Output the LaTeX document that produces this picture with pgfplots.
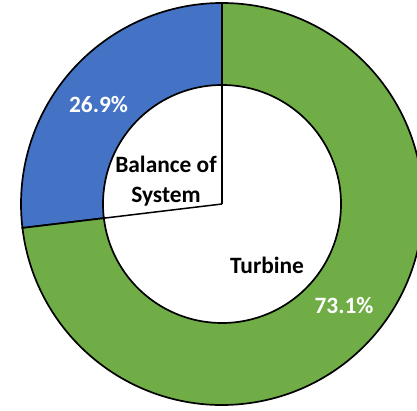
\documentclass[border=0pt]{standalone}
\usepackage{pgfplots}
\usepackage{pgfplotstable}
\pgfplotsset{compat=1.18}
\usetikzlibrary{calc}
\usepackage{fontspec}
\setmainfont{Carlito}
\definecolor{bosblue}{HTML}{4472C4}
\definecolor{turbgreen}{HTML}{70AD47}
\pgfplotstableread{
label value
BOS 26.9
Turbine 73.1
}\piedata
\begin{document}
\begin{tikzpicture}
\pgfplotstablegetelem{0}{value}\of\piedata \let\vA\pgfplotsretval
\pgfplotstablegetelem{1}{value}\of\piedata \let\vB\pgfplotsretval
\pgfmathsetmacro\aA{90+3.6*\vA}
\pgfmathsetmacro\aB{\aA+3.6*\vB}
\def\Ro{201bp}
\def\Ri{119bp}
\begin{axis}[
  scale only axis, width=417bp, height=411bp,
  xmin=0, xmax=417, ymin=0, ymax=411,
  hide axis, clip=true,
  /pgf/number format/assume math mode=true,
]
\coordinate (c) at (axis cs:222,207);
% Balance of System sector
\filldraw[fill=bosblue, draw=black, line width=1.7bp]
  (c) ++(90:\Ro) arc[start angle=90, end angle=\aA, radius=\Ro]
  -- ($(c)+(\aA:\Ri)$) arc[start angle=\aA, end angle=90, radius=\Ri] -- cycle;
% Turbine sector
\filldraw[fill=turbgreen, draw=black, line width=1.7bp]
  (c) ++(\aA:\Ro) arc[start angle=\aA, end angle=\aB, radius=\Ro]
  -- ($(c)+(\aB:\Ri)$) arc[start angle=\aB, end angle=\aA, radius=\Ri] -- cycle;
% inner wedge lines
\draw[black, line width=1.5bp] (c) -- ++(90:\Ri);
\draw[black, line width=1.5bp] (c) -- ++(\aA:\Ri);
% labels
\node[text=white, font=\fontsize{23.5}{28}\selectfont\bfseries] at (axis cs:98.5,306) {\pgfmathprintnumber[fixed,precision=1,fixed zerofill,assume math mode=true]{\vA}\%};
\node[text=white, font=\fontsize{23.5}{28}\selectfont\bfseries] at (axis cs:344,105) {\pgfmathprintnumber[fixed,precision=1,fixed zerofill,assume math mode=true]{\vB}\%};
\node[text=black, align=center, font=\fontsize{23.5}{29.5}\selectfont\bfseries, inner sep=0pt] at (axis cs:166,230) {Balance of\\System};
\node[text=black, font=\fontsize{23.5}{28}\selectfont\bfseries] at (axis cs:267,146) {Turbine};
\end{axis}
\pgfresetboundingbox
\useasboundingbox (0,0) rectangle (417bp,411bp);
\end{tikzpicture}
\end{document}
